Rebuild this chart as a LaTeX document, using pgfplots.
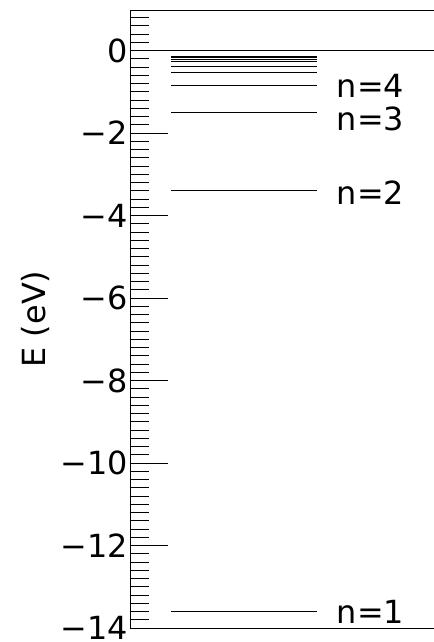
\documentclass[border=0pt]{standalone}
\usepackage{fontspec}
\setmainfont{DejaVu Sans}
\usepackage{pgfplots}
\pgfplotsset{compat=1.18}
\begin{document}
\begin{tikzpicture}
\begin{axis}[name=ax, scale only axis, width=304bp, height=618bp,
  xmin=0, xmax=1, ymin=-14, ymax=0.98,
  axis line style={draw=none},
  xtick=\empty,
  ytick pos=left,
  ytick={-14,-12,-10,-8,-6,-4,-2,0},
  yticklabels={−14,−12,−10,−8,−6,−4,−2,0},
  minor ytick={-13.8,-13.6,...,0.9},
  tick align=inside,
  major tick length=38bp, minor tick length=19bp,
  every tick/.style={black, line width=0.8bp},
  yticklabel style={font=\fontsize{32}{32}\selectfont, inner sep=2bp},
  ylabel={E (eV)},
  ylabel style={font=\fontsize{32}{32}\selectfont, yshift=5bp},
  clip=false,
]
\draw[black, line width=0.8bp, line cap=butt] (rel axis cs:0,1) -- (rel axis cs:1,1);
\draw[black, line width=0.8bp, line cap=butt] (rel axis cs:0,0) -- (rel axis cs:0,1);
\draw[black, line width=0.8bp, line cap=butt] (rel axis cs:0,0) -- (rel axis cs:1,0);
\addplot[black, line width=0.8bp] coordinates {(0,0) (1,0)};
\addplot[black, line width=1bp] coordinates {(0.135,-13.6) (0.615,-13.6)};
\addplot[black, line width=1bp] coordinates {(0.135,-3.4) (0.615,-3.4)};
\addplot[black, line width=1bp] coordinates {(0.135,-1.511) (0.615,-1.511)};
\addplot[black, line width=1bp] coordinates {(0.135,-0.85) (0.615,-0.85)};
\addplot[black, line width=1bp] coordinates {(0.135,-0.544) (0.615,-0.544)};
\addplot[black, line width=1bp] coordinates {(0.135,-0.378) (0.615,-0.378)};
\addplot[black, line width=1bp] coordinates {(0.135,-0.278) (0.615,-0.278)};
\addplot[black, line width=1bp] coordinates {(0.135,-0.2125) (0.615,-0.2125)};
\addplot[black, line width=1bp] coordinates {(0.135,-0.168) (0.615,-0.168)};
\addplot[black, line width=1bp] coordinates {(0.135,-0.136) (0.615,-0.136)};
\node[anchor=west, inner sep=0pt, font=\fontsize{32}{32}\selectfont] at (axis cs:0.68,-0.85) {n=4};
\node[anchor=west, inner sep=0pt, font=\fontsize{32}{32}\selectfont] at (axis cs:0.68,-1.65) {n=3};
\node[anchor=west, inner sep=0pt, font=\fontsize{32}{32}\selectfont] at (axis cs:0.68,-3.45) {n=2};
\node[anchor=west, inner sep=0pt, font=\fontsize{32}{32}\selectfont] at (axis cs:0.68,-13.6) {n=1};
\end{axis}
\pgfresetboundingbox
\path ([shift={(-130bp,-14bp)}]ax.south west) rectangle ([shift={(0bp,10bp)}]ax.north east);
\end{tikzpicture}
\end{document}
